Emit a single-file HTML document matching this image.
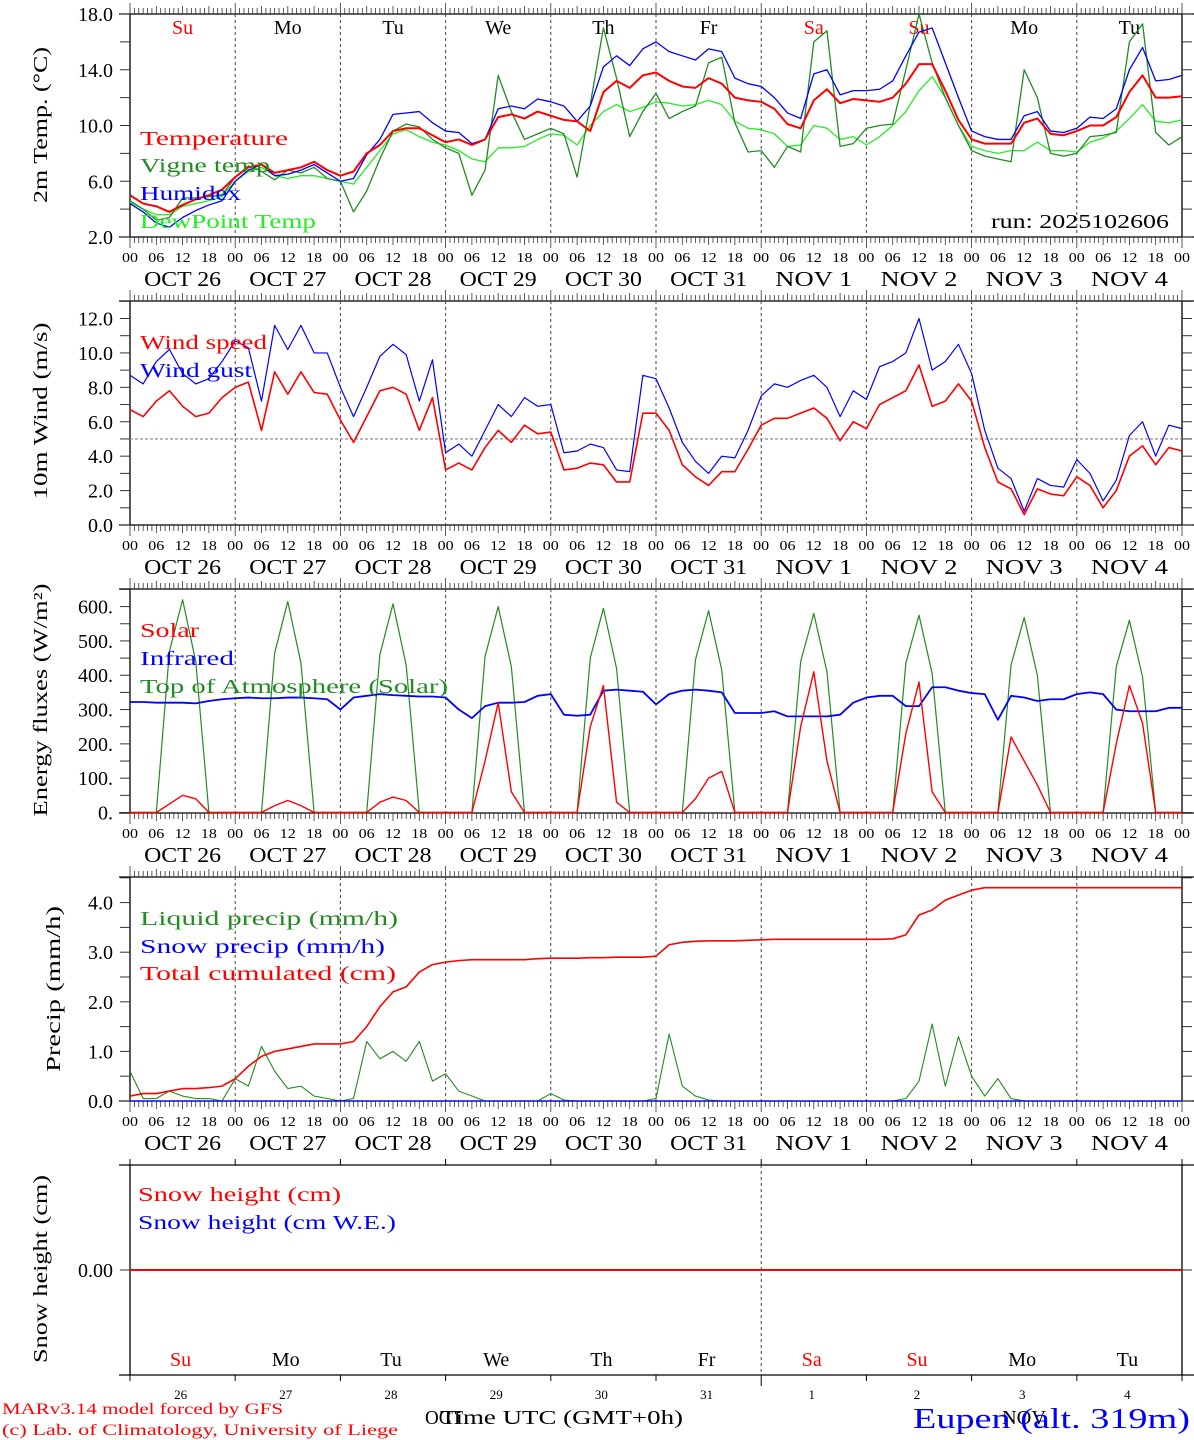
<!DOCTYPE html>
<html><head><meta charset="utf-8"><style>
html,body{margin:0;padding:0;background:#fff;}
svg{display:block;}
text{font-family:"Liberation Serif",serif;}
</style></head><body>
<svg id="chart" width="1194" height="1440" viewBox="0 0 1194 1440" xmlns="http://www.w3.org/2000/svg"></svg>
<script>
// ---------- data (3-hourly, hours 0..240 from Oct 26 00 UTC) ----------
const dayNames = ["Su","Mo","Tu","We","Th","Fr","Sa","Su","Mo","Tu"];
const dayColors = ["red","black","black","black","black","black","red","red","black","black"];
const dateLabels = ["OCT 26","OCT 27","OCT 28","OCT 29","OCT 30","OCT 31","NOV  1","NOV  2","NOV  3","NOV  4"];
const dateNums = ["26","27","28","29","30","31","1","2","3","4"];
const hourLabels = ["00","06","12","18"];

const temperature = [5.0,4.4,4.2,3.8,4.3,4.7,5.0,5.4, 6.3,7.0,7.2,6.6,6.8,7.0,7.4,6.8, 6.4,6.7,8.0,8.6,9.6,9.8,9.8,9.3, 8.8,9.0,8.6,9.0,10.6,10.8,10.5,11.0, 10.7,10.4,10.3,9.6,12.4,13.2,12.7,13.6, 13.8,13.2,12.8,12.7,13.4,13.0,12.0,11.8, 11.7,11.2,10.1,9.8,11.8,12.6,11.6,11.9, 11.8,11.7,12.0,13.0,14.4,14.4,12.5,10.4, 9.0,8.7,8.7,8.7,10.2,10.5,9.4,9.3, 9.6,10.0,10.0,10.6,12.4,13.6,12.0,12.0, 12.1];
const humidex = [4.4,3.8,3.0,2.7,3.4,3.9,4.3,4.6, 6.0,6.8,7.2,6.4,6.5,6.8,7.2,6.6, 6.0,6.2,7.9,9.0,10.8,10.9,11.0,10.2, 9.6,9.5,8.7,9.0,11.2,11.4,11.2,11.9, 11.7,11.4,10.3,11.4,14.2,15.0,14.3,15.5, 16.0,15.3,15.0,14.7,15.5,15.3,13.4,13.0, 12.8,12.0,10.9,10.5,13.7,14.0,12.2,12.5, 12.5,12.6,13.2,15.0,16.7,17.0,14.5,12.0, 9.6,9.2,9.0,9.0,10.7,11.0,9.6,9.5, 9.8,10.6,10.5,11.2,14.0,15.6,13.2,13.3, 13.6];
const dewPoint = [4.5,4.0,3.6,3.6,4.2,4.4,4.6,4.9, 6.0,6.7,7.0,6.4,6.2,6.4,6.4,6.2, 6.0,5.8,7.0,8.2,9.4,9.7,9.2,8.8, 8.6,8.2,7.6,7.4,8.4,8.4,8.5,9.0, 9.4,9.3,8.6,10.0,11.0,11.5,11.0,11.3, 11.7,11.6,11.4,11.5,11.8,11.5,10.3,9.8, 9.7,9.4,8.5,8.6,10.0,9.8,9.0,9.2, 8.6,9.2,10.0,11.0,12.5,13.5,12.0,10.0, 8.5,8.2,8.0,8.2,8.2,8.8,8.2,8.2, 8.1,8.8,9.1,9.6,10.5,11.5,10.3,10.2, 10.4];
const vigneTemp = [4.6,4.0,3.2,3.4,4.8,4.8,4.9,5.0, 6.3,7.1,6.7,6.1,6.8,6.6,7.0,6.2, 6.0,3.8,5.3,7.6,9.6,10.1,9.9,9.0, 8.4,8.0,5.0,6.8,13.6,11.0,9.0,9.4, 9.8,9.4,6.3,11.5,17.0,13.4,9.2,11.0, 12.3,10.5,11.0,11.4,14.5,14.9,10.2,8.1, 8.2,7.0,8.5,8.1,16.0,16.8,8.5,8.7, 9.8,10.0,10.1,14.0,18.0,14.5,12.0,10.0, 8.2,7.8,7.6,7.4,14.0,12.0,8.0,7.8, 8.0,9.2,9.3,9.5,16.0,17.3,9.5,8.6, 9.2];

const windSpeed = [6.7,6.3,7.2,7.8,6.9,6.3,6.5,7.4, 8.0,8.3,5.5,8.9,7.6,8.9,7.7,7.6, 6.1,4.8,6.3,7.8,8.0,7.6,5.5,7.4, 3.2,3.6,3.2,4.5,5.5,4.8,5.8,5.3, 5.4,3.2,3.3,3.6,3.5,2.5,2.5,6.5, 6.5,5.5,3.5,2.8,2.3,3.1,3.1,4.4, 5.8,6.2,6.2,6.5,6.8,6.2,4.9,6.0, 5.6,7.0,7.4,7.8,9.3,6.9,7.2,8.2, 7.2,4.5,2.5,2.1,0.6,2.1,1.8,1.7, 2.8,2.3,1.0,2.0,4.0,4.6,3.5,4.5, 4.3];
const windGust = [8.7,8.2,9.5,10.2,8.8,8.2,8.5,9.5, 10.7,10.3,7.2,11.6,10.2,11.6,10.0,10.0, 8.0,6.3,8.0,9.8,10.5,9.9,7.2,9.6, 4.2,4.7,4.0,5.5,7.0,6.3,7.4,6.9, 7.0,4.2,4.3,4.7,4.5,3.2,3.1,8.7, 8.5,6.8,4.8,3.7,3.0,4.0,3.9,5.5, 7.5,8.2,8.0,8.4,8.7,8.0,6.3,7.8, 7.3,9.2,9.5,10.0,12.0,9.0,9.5,10.5, 8.8,5.5,3.3,2.7,0.8,2.7,2.3,2.2, 3.8,3.0,1.4,2.6,5.2,6.0,4.0,5.8, 5.6];

const solar = [0,0,0,25,50,40,0,0, 0,0,0,20,35,20,0,0, 0,0,0,30,45,35,0,0, 0,0,0,150,320,60,0,0, 0,0,0,250,370,30,0,0, 0,0,0,40,100,120,0,0, 0,0,0,250,410,150,0,0, 0,0,0,230,380,60,0,0, 0,0,0,220,150,80,0,0, 0,0,0,200,370,260,0,0, 0];
const infrared = [322,322,320,320,320,318,325,330, 333,335,333,333,335,335,333,330, 300,335,340,345,342,340,338,338, 335,300,275,310,320,320,322,340, 345,285,282,285,355,358,355,352, 315,345,355,358,355,350,290,290, 290,295,280,280,280,280,285,320, 335,340,340,310,310,365,365,355, 348,345,270,340,335,325,330,330, 345,350,345,300,295,295,295,305, 305];
const toaSolar = [0,0,0,470,620,440,0,0, 0,0,0,465,615,435,0,0, 0,0,0,460,608,430,0,0, 0,0,0,455,600,425,0,0, 0,0,0,450,595,420,0,0, 0,0,0,445,588,415,0,0, 0,0,0,440,580,410,0,0, 0,0,0,435,575,405,0,0, 0,0,0,430,568,400,0,0, 0,0,0,425,560,395,0,0, 0];

const liquidPrecip = [0.6,0.05,0.05,0.2,0.1,0.05,0.05,0.0, 0.45,0.3,1.1,0.6,0.25,0.3,0.1,0.05, 0.0,0.05,1.2,0.85,1.0,0.8,1.2,0.4, 0.55,0.2,0.1,0,0,0,0,0, 0.15,0.02,0,0,0,0,0,0, 0.05,1.35,0.3,0.1,0.02,0,0,0, 0,0,0,0,0,0,0,0, 0,0,0,0.05,0.4,1.55,0.3,1.3, 0.5,0.1,0.45,0.05,0,0,0,0, 0,0,0,0,0,0,0,0, 0];
const snowPrecip = [0,0,0,0,0,0,0,0, 0,0,0,0,0,0,0,0, 0,0,0,0,0,0,0,0, 0,0,0,0,0,0,0,0, 0,0,0,0,0,0,0,0, 0,0,0,0,0,0,0,0, 0,0,0,0,0,0,0,0, 0,0,0,0,0,0,0,0, 0,0,0,0,0,0,0,0, 0,0,0,0,0,0,0,0, 0];
const totalCumulated = [0.1,0.15,0.15,0.2,0.25,0.25,0.27,0.3, 0.45,0.7,0.9,1.0,1.05,1.1,1.15,1.15, 1.15,1.2,1.5,1.9,2.2,2.3,2.6,2.75, 2.8,2.83,2.85,2.85,2.85,2.85,2.85,2.87, 2.88,2.88,2.88,2.89,2.89,2.9,2.9,2.9, 2.92,3.15,3.2,3.22,3.23,3.23,3.23,3.24, 3.25,3.26,3.26,3.26,3.26,3.26,3.26,3.26, 3.26,3.26,3.27,3.35,3.75,3.85,4.05,4.15, 4.25,4.3,4.3,4.3,4.3,4.3,4.3,4.3, 4.3,4.3,4.3,4.3,4.3,4.3,4.3,4.3, 4.3];
const snowHeight = [0,0,0,0,0,0,0,0, 0,0,0,0,0,0,0,0, 0,0,0,0,0,0,0,0, 0,0,0,0,0,0,0,0, 0,0,0,0,0,0,0,0, 0,0,0,0,0,0,0,0, 0,0,0,0,0,0,0,0, 0,0,0,0,0,0,0,0, 0,0,0,0,0,0,0,0, 0,0,0,0,0,0,0,0, 0];
const timeStep = 3;

// ---------- helpers ----------
const svg = document.getElementById('chart');
const NS = 'http://www.w3.org/2000/svg';
const X0 = 130, X1 = 1182, HOURS = 240;
function xScale(h){ return X0 + h*(X1-X0)/HOURS; }
function linScale(v0,y0,v1,y1){ return v => y0 + (v-v0)*(y1-y0)/(v1-v0); }
function mk(tag, attrs, parent){
  const e = document.createElementNS(NS, tag);
  for (const k in attrs) e.setAttribute(k, attrs[k]);
  (parent||svg).appendChild(e);
  return e;
}
function txt(str, x, y, size, color, anchor, parent, len){
  const t = mk('text', {x:x, y:y, 'font-size':size, fill:color||'#000', 'text-anchor':anchor||'start'}, parent);
  if (len){ t.setAttribute('textLength', len); t.setAttribute('lengthAdjust','spacingAndGlyphs'); }
  t.textContent = str;
  return t;
}
function series(values, yf, color, width, name, parent){
  let d = '';
  values.forEach((v,i)=>{ d += (i?'L':'M') + xScale(i*timeStep).toFixed(2) + ' ' + yf(v).toFixed(2); });
  const p = mk('path', {d:d, fill:'none', stroke:color, 'stroke-width':width, 'stroke-linejoin':'round'}, parent);
  
  
  return p;
}

function panel(opts){
  const g = mk('g', {});
  
  
  const top = opts.top, bot = opts.bottom;
  // frame
  mk('line', {x1:119, y1:top, x2:1194, y2:top, stroke:'#000', 'stroke-width':1.3}, g);
  mk('line', {x1:119, y1:bot, x2:1194, y2:bot, stroke:'#000', 'stroke-width':1.3}, g);
  mk('line', {x1:X0, y1:top, x2:X0, y2:bot, stroke:'#000', 'stroke-width':1.3}, g);
  mk('line', {x1:X1, y1:top, x2:X1, y2:bot, stroke:'#000', 'stroke-width':1.3}, g);
  if (opts.hourTicks){
    for (let h=0; h<=HOURS; h++){
      const x = xScale(h), L = (h%24===0)?11:(h%6===0?8:6);
      mk('line', {x1:x, y1:top, x2:x, y2:top-L, stroke:'#333', 'stroke-width':0.8}, g);
      mk('line', {x1:x, y1:bot, x2:x, y2:bot+L, stroke:'#333', 'stroke-width':0.8}, g);
    }
    const hl = mk('g', {}, g);
    
    
    for (let d=0; d<=10; d++){
      for (let k=0; k<4; k++){
        if (d===10 && k>0) break;
        txt(hourLabels[k], xScale(d*24+k*6), bot+25, 14, '#000', 'middle', hl, 16);
      }
    }
    const dl = mk('g', {}, g);
    
    
    for (let d=0; d<10; d++) txt(dateLabels[d], xScale(d*24+12), bot+49, 21, '#000', 'middle', dl, 77);
  }
  // day separators
  for (let d=1; d<10; d++){
    if (opts.onlyMidLine && d!==6) continue;
    mk('line', {x1:xScale(d*24), y1:top, x2:xScale(d*24), y2:bot, stroke:'#444', 'stroke-width':1, 'stroke-dasharray':'3,3'}, g);
  }
  // y ticks
  const yf = opts.y;
  if (opts.minorStep){
    for (let v=opts.vmin; v<=opts.vmax+1e-9; v+=opts.minorStep){
      const y = yf(v);
      if (y < top-0.5 || y > bot+0.5) continue;
      mk('line', {x1:X0-10, y1:y, x2:X0, y2:y, stroke:'#333', 'stroke-width':1}, g);
      mk('line', {x1:X1, y1:y, x2:X1+10, y2:y, stroke:'#333', 'stroke-width':1}, g);
    }
  }
  const yl = mk('g', {}, g);
  
  
  opts.labels.forEach(([v,s])=>{ txt(s, 113, yf(v)+7, 20, '#000', 'end', yl); });
  // y title
  const tt = txt(opts.title, 0, 0, 20, '#000', 'middle', g, opts.titleLen);
  tt.setAttribute('transform', `translate(${opts.titleX+7},${opts.titleY}) rotate(-90)`);
  
  
  return g;
}
function legend(g, items){
  items.forEach(([s,c,y,len,name])=>{
    const t = txt(s, 140, y+7, 20, c, 'start', g, len);
    
    
  });
}

// ---------- Panel 1: temperature ----------
const yT = linScale(2, 237, 18, 14);
const lb1 = [[2,'2.0'],[6,'6.0'],[10,'10.0'],[14,'14.0'],[18,'18.0']];
const g1 = panel({name:'temperature-panel', top:14, bottom:237, hourTicks:true, y:yT, vmin:2, vmax:18, minorStep:2, labels:lb1, title:'2m Temp. (\u00B0C)', titleX:40, titleY:125, titleLen:156});
const dn = mk('g', {}, g1);


for (let d=0; d<10; d++) txt(dayNames[d], xScale(d*24+12), 34, 20, dayColors[d], 'middle', dn);
series(dewPoint, yT, '#22ee22', 1.3, 'dewpoint-line', g1);
series(vigneTemp, yT, '#228b22', 1.3, 'vigne-temp-line', g1);
series(humidex, yT, '#0000ff', 1.3, 'humidex-line', g1);
series(temperature, yT, '#ff0000', 2, 'temperature-line', g1);
legend(g1, [['Temperature','#ff0000',138,148,'legend-temperature'],['Vigne temp','#228b22',165,130,'legend-vigne-temp'],['Humidex','#0000ff',193,101,'legend-humidex'],['DewPoint Temp','#22ee22',221,176,'legend-dewpoint']]);
const run = txt('run: 2025102606', 991, 228, 20, '#000', 'start', g1, 178);



// ---------- Panel 2: wind ----------
const yW = linScale(0, 525, 12, 318.5);
const lb2 = [[0,'0.0'],[2,'2.0'],[4,'4.0'],[6,'6.0'],[8,'8.0'],[10,'10.0'],[12,'12.0']];
const g2 = panel({name:'wind-panel', top:301, bottom:525, hourTicks:true, y:yW, vmin:0, vmax:13, minorStep:1, labels:lb2, title:'10m Wind (m/s)', titleX:40, titleY:411, titleLen:177});
const ref5 = mk('line', {x1:X0, y1:yW(5), x2:X1, y2:yW(5), stroke:'#999', 'stroke-width':1.3, 'stroke-dasharray':'3,2'}, g2);


series(windGust, yW, '#0000ff', 1.2, 'wind-gust-line', g2);
series(windSpeed, yW, '#ff0000', 1.6, 'wind-speed-line', g2);
legend(g2, [['Wind speed','#ff0000',342,127,'legend-wind-speed'],['Wind gust','#0000ff',370,112,'legend-wind-gust']]);

// ---------- Panel 3: energy fluxes ----------
const yE = linScale(0, 812.5, 600, 606.6);
const lb3 = [[0,'0.'],[100,'100.'],[200,'200.'],[300,'300.'],[400,'400.'],[500,'500.'],[600,'600.']];
const g3 = panel({name:'energy-panel', top:589, bottom:813, hourTicks:true, y:yE, vmin:0, vmax:650, minorStep:50, labels:lb3, title:'Energy fluxes (W/m\u00B2)', titleX:40, titleY:700, titleLen:233});
series(toaSolar, yE, '#228b22', 1.2, 'toa-solar-line', g3);
series(infrared, yE, '#0000ff', 1.8, 'infrared-line', g3);
series(solar, yE, '#ff0000', 1.4, 'solar-line', g3);
legend(g3, [['Solar','#ff0000',630,59,'legend-solar'],['Infrared','#0000ff',658,94,'legend-infrared'],['Top of Atmosphere (Solar)','#228b22',686,308,'legend-toa']]);

// ---------- Panel 4: precipitation ----------
const yP = linScale(0, 1101, 4, 902.6);
const lb4 = [[0,'0.0'],[1,'1.0'],[2,'2.0'],[3,'3.0'],[4,'4.0']];
const g4 = panel({name:'precip-panel', top:877, bottom:1101, hourTicks:true, y:yP, vmin:0, vmax:4.5, minorStep:0.5, labels:lb4, title:'Precip (mm/h)', titleX:53, titleY:989, titleLen:166});
series(liquidPrecip, yP, '#228b22', 1.1, 'liquid-precip-line', g4);
series(snowPrecip, yP, '#0000ff', 1.2, 'snow-precip-line', g4);
series(totalCumulated, yP, '#ff0000', 1.6, 'total-cumulated-line', g4);
legend(g4, [['Liquid precip (mm/h)','#228b22',918,258,'legend-liquid-precip'],['Snow precip (mm/h)','#0000ff',946,245,'legend-snow-precip'],['Total cumulated (cm)','#ff0000',973,256,'legend-total-cumulated']]);

// ---------- Panel 5: snow height ----------
const yS = linScale(0, 1270, 1, 1170);
const g5 = panel({name:'snow-panel', top:1165, bottom:1375, hourTicks:false, onlyMidLine:true, y:yS, vmin:0, vmax:0, minorStep:0, labels:[[0,'0.00']], title:'Snow height (cm)', titleX:40, titleY:1269, titleLen:188});
mk('line', {x1:X0-10, y1:1270, x2:X0, y2:1270, stroke:'#333'}, g5);
mk('line', {x1:X1, y1:1270, x2:X1+10, y2:1270, stroke:'#333'}, g5);
for (let d=0; d<=10; d++){
  const x = xScale(d*24);
  mk('line', {x1:x, y1:1165, x2:x, y2:1159, stroke:'#000'}, g5);
  mk('line', {x1:x, y1:1375, x2:x, y2:(d===6?1386:1381), stroke:'#000'}, g5);
}
series(snowHeight, yS, '#ff0000', 2, 'snow-height-line', g5);
legend(g5, [['Snow height (cm)','#ff0000',1194,-1,'legend-snow-height']]);
const dn5 = mk('g', {}, g5);


for (let d=0; d<10; d++){
  txt(dayNames[d], xScale(d*24+12)-2, 1366, 20, dayColors[d], 'middle', dn5);
  txt(dateNums[d], xScale(d*24+12)-2, 1399, 13, '#000', 'middle', dn5);
}
// fix legend lengths for panel 5
g5.querySelectorAll('text').forEach(t=>{ if(t.textContent==='Snow height (cm)' && t.getAttribute('fill')==='#ff0000'){ t.setAttribute('x',138); t.setAttribute('textLength',203); t.setAttribute('lengthAdjust','spacingAndGlyphs'); }});
const sw = txt('Snow height (cm W.E.)', 138, 1229, 20, '#0000ff', 'start', g5, 258);



// ---------- footer ----------
const f1 = txt('MARv3.14 model forced by GFS', 2, 1414, 16, '#ff0000', 'start', null, 281);


const f2 = txt('(c) Lab. of Climatology, University of Liege', 2, 1435, 16, '#ff0000', 'start', null, 396);


const f3 = txt('OCT', 425, 1424, 20, '#000', 'start', null, 38);


const f4 = txt('Time UTC (GMT+0h)', 440, 1424, 20, '#000', 'start', null, 243);


const f5 = txt('NOV', 1002, 1424, 20, '#000', 'start', null, 44);


const f6 = txt('Eupen (alt. 319m)', 913, 1428, 28, '#0000ff', 'start', null, 277);


</script>
</body></html>
